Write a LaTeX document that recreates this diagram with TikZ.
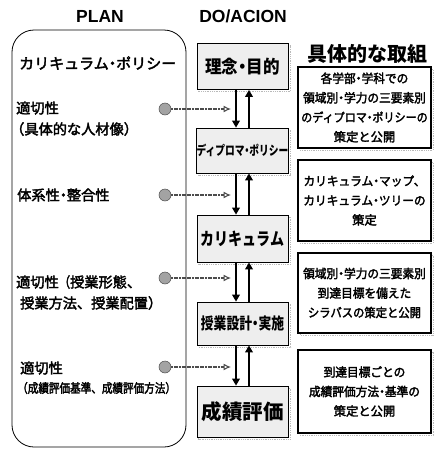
\documentclass[tikz,border=0pt]{standalone}
\usepackage{fontspec}
\usepackage{graphicx}
\setmainfont{Liberation Sans}
\newfontfamily\jp{Noto Sans CJK JP}
\newfontfamily\jpm[FakeBold=2.6]{Noto Sans CJK JP}
\usetikzlibrary{arrows.meta}
\newcommand\hsq[2]{\scalebox{#1}[1]{#2}}
\newcommand\nak{\makebox[0.5em][c]{・}}
\begin{document}
\begin{tikzpicture}[x=1pt,y=-1pt,
  hdr/.style={font=\fontsize{17.5}{20}\selectfont\bfseries},
  ltext/.style={anchor=west,inner sep=0,font=\jpm\fontsize{14.2}{17}\selectfont},
  mbox/.style={draw,line width=0.7pt,fill=gray!13,minimum width=91pt,inner sep=0,
    font=\jp\bfseries},
  mshadow/.style={draw=gray!55,densely dotted,line width=0.8pt},
  rbox/.style={draw,line width=1.1pt,fill=white,minimum width=133pt,inner sep=0,
    align=center,font=\jpm\fontsize{12.3}{19.5}\selectfont},
  dot/.style={circle,fill=gray!72,draw=black!70,line width=0.5pt,minimum size=12pt,inner sep=0},
  dotarrow/.style={black!70,line width=1.6pt,dash pattern=on 2pt off 0.6pt,
    -{Latex[open,length=7.5pt,width=7pt,line width=1.1pt]}},
  flow/.style={line width=2.3pt,-{Triangle[length=7pt,width=7.5pt]}}
]
\useasboundingbox (0,0) rectangle (436,461);

% headers
\node[hdr] (hplan) at (100,16) {PLAN};
\node[hdr] (hdo) at (243,16) {DO/ACION};
\node[font=\jp\bfseries\fontsize{20}{22}\selectfont] (htitle) at (367,54) {具体的な取組};

% plan frame
\node[draw,line width=0.8pt,rounded corners=22pt,minimum width=174pt,minimum height=417pt,inner sep=0] (plan) at (99,238.5) {};

% left texts
\node[ltext,font=\jpm\fontsize{15}{17}\selectfont] (cp) at (19,63) {カリキュラム\nak ポリシー};
\node[ltext] (l1a) at (16,108) {適切性};
\node[ltext] (l1b) at (10,129) {（具体的な人材像）};
\node[ltext] (l2) at (17,195) {体系性\nak 整合性};
\node[ltext] (l3a) at (16,282) {適切性\hsq{0.8}{（}授業形態、};
\node[ltext] (l3b) at (20,303) {授業方法、授業配置）};
\node[ltext] (l4a) at (20,368) {適切性};
\node[ltext] (l4b) at (17,388) {\hsq{0.84}{\fontsize{12.6}{15}\selectfont（成績評価基準、成績評価方法）}};

% middle shadows
\foreach \cy/\h in {66.5/46,150.5/45,238.5/47,323.5/43,411.5/51}{
  \draw[mshadow] (198.5,\cy-\h/2+2) rectangle (290.5,\cy+\h/2+2);
}
% middle boxes
\node[mbox,minimum height=46pt] (m1) at (242.5,66.5) {\fontsize{18}{20}\selectfont\hsq{0.92}{理念\nak 目的}};
\node[mbox,minimum height=45pt] (m2) at (242.5,150.5) {\fontsize{13}{15}\selectfont\hsq{0.75}{ディプロマ\nak ポリシー}};
\node[mbox,minimum height=47pt] (m3) at (242.5,238.5) {\fontsize{17.5}{20}\selectfont\hsq{0.8}{カリキュラム}};
\node[mbox,minimum height=43pt] (m4) at (242.5,323.5) {\fontsize{16}{18}\selectfont\hsq{0.8}{授業設計\nak 実施}};
\node[mbox,minimum height=51pt] (m5) at (242.5,411.5) {\fontsize{20.5}{22}\selectfont 成績評価};

% flow arrows
\foreach \a/\b in {m1/m2,m2/m3,m3/m4,m4/m5}{
  \draw[flow] ([xshift=-6.5pt]\a.south) -- ([xshift=-6.5pt]\b.north);
  \draw[flow] ([xshift=6.5pt]\b.north) -- ([xshift=6.5pt]\a.south);
}

% dots and dotted arrows
\node[dot] (d1) at (165,109) {};
\node[dot] (d2) at (165,195) {};
\node[dot] (d3) at (165,278) {};
\node[dot] (d4) at (165,367) {};
\coordinate (t1) at (231,109);
\coordinate (t2) at (231,195);
\coordinate (t3) at (231,278);
\coordinate (t4) at (231,367);
\foreach \i in {1,...,4}{\draw[dotarrow] (d\i) -- (t\i);}

% right shadows
\foreach \cy/\h in {107.5/81,200.5/81,293/80,391.5/83}{
  \draw[mshadow] (300,\cy-\h/2+2) rectangle (433,\cy+\h/2+2);
}
% right boxes
\node[rbox,minimum height=81pt] (r1) at (364.5,107.5)
  {\hsq{0.95}{各学部\nak 学科での}\\\hsq{0.95}{領域別\nak 学力の三要素別}\\\hsq{0.9}{のディプロマ\nak ポリシーの}\\策定と公開};
\node[rbox,minimum height=81pt] (r2) at (364.5,200.5)
  {\hsq{0.95}{カリキュラム\nak マップ、}\\\hsq{0.95}{カリキュラム\nak ツリーの}\\策定};
\node[rbox,minimum height=80pt] (r3) at (364.5,293)
  {\hsq{0.95}{領域別\nak 学力の三要素別}\\\hsq{0.95}{到達目標を備えた}\\\hsq{0.92}{シラバスの策定と公開}};
\node[rbox,minimum height=83pt] (r4) at (364.5,391.5)
  {\hsq{0.95}{到達目標ごとの}\\\hsq{0.95}{成績評価方法\nak 基準の}\\策定と公開};
\end{tikzpicture}
\end{document}
